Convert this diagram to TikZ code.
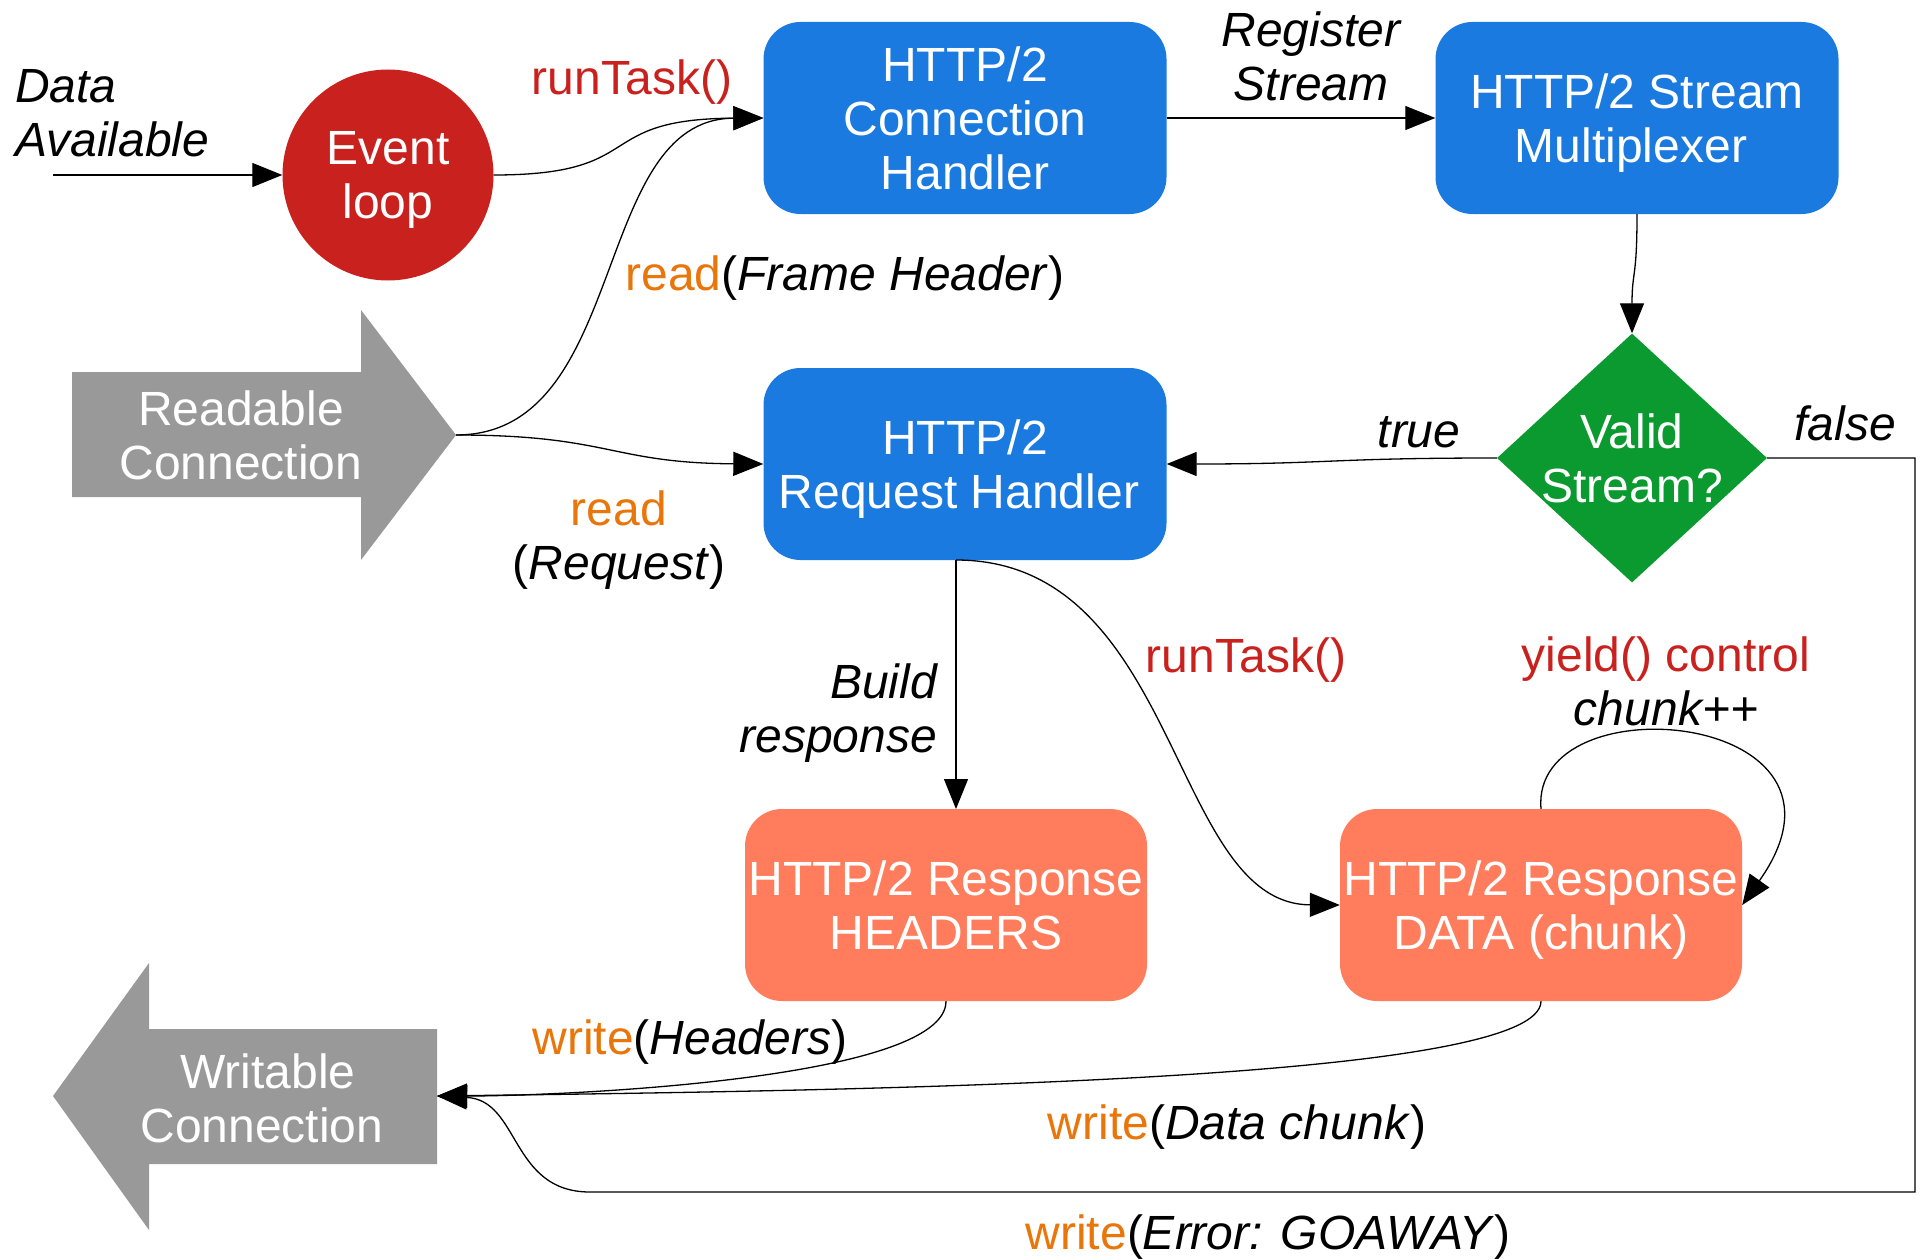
\documentclass[tikz,border=0pt]{standalone}
\usepackage{fontspec}
\setmainfont{Liberation Sans}
\usetikzlibrary{arrows.meta,shapes.geometric}
\definecolor{boxblue}{HTML}{1A7ADF}
\definecolor{loopred}{HTML}{C9211E}
\definecolor{validgreen}{HTML}{0B9A2F}
\definecolor{salmon}{HTML}{FF7D5C}
\definecolor{arrowgrey}{HTML}{999999}
\definecolor{lblorange}{HTML}{E8760A}
\definecolor{lblred}{HTML}{C9211E}
\tikzset{
  every node/.style={font=\fontsize{48}{54}\selectfont, inner sep=0pt, text depth=0pt},
  bluebox/.style={rectangle, rounded corners=37pt, fill=boxblue, text=white, minimum width=403pt, minimum height=192pt, align=center},
  salmonbox/.style={rectangle, rounded corners=37pt, fill=salmon, text=white, minimum width=402pt, minimum height=192pt, align=center},
  conn/.style={line width=1.3pt, -{Triangle[length=30pt,width=24pt]}},
  lbl/.style={align=center},
}
\newcommand{\rd}[1]{\textcolor{lblorange}{#1}}
\newcommand{\trail}{\hspace*{12pt}}
\begin{document}
\begin{tikzpicture}[x=1pt,y=-1pt]
\useasboundingbox (0,0) rectangle (1921,1260);
% big arrows
\fill[arrowgrey] (72,372) -- (361,372) -- (361,310) -- (456,435) -- (361,560) -- (361,497) -- (72,497) -- cycle;
\node[text=white, align=center] (rctext) at (241,435) {Readable\\Connection};
\coordinate (rc) at (456,435);
\fill[arrowgrey] (437,1029) -- (149,1029) -- (149,963) -- (53,1096) -- (149,1230) -- (149,1164) -- (437,1164) -- cycle;
\node[text=white, align=center] (wctext) at (268,1098) {Writable\\Connection\trail};
\coordinate (wc) at (437,1096);
% nodes
\node[circle, fill=loopred, text=white, minimum size=211pt, align=center] (EL) at (388,175) {Event\\loop};
\node[bluebox] (CH) at (965,118) {HTTP/2\\Connection\trail\\Handler};
\node[bluebox] (SM) at (1637,118) {HTTP/2 Stream\\Multiplexer\trail};
\node[bluebox] (RH) at (965,464) {HTTP/2\\Request Handler\trail};
\node[diamond, fill=validgreen, minimum width=270pt, minimum height=249pt] (VS) at (1632,458) {};
\node[text=white, align=center] (vstext) at (VS.center) {Valid\\Stream?};
\node[salmonbox] (HD) at (946,905) {HTTP/2 Response\\HEADERS};
\node[salmonbox] (DT) at (1541,905) {HTTP/2 Response\\DATA (chunk)};
\coordinate (dstart) at (53,175);
\coordinate (rhb) at (956,560);
\coordinate (hdt) at (956,809);
% connectors
\draw[conn] (dstart) -- (EL);
\draw[conn] (EL.east) .. controls (650,175) and (590,119) .. (CH.west);
\draw[conn] (rc) .. controls (630,435) and (590,119) .. (CH.west);
\draw[conn] (rc) .. controls (610,435) and (610,463) .. (RH.west);
\draw[conn] (CH.east) -- (SM.west);
\draw[conn] (SM.south) .. controls (1637,280) and (1632,270) .. (VS.north);
\draw[conn] (VS.west) .. controls (1330,458) and (1330,464) .. (RH.east);
\draw[conn] (rhb) -- (hdt);
\draw[conn] (rhb) .. controls (1180,560) and (1170,904) .. (DT.west);
\draw[conn] (DT.north) .. controls (1530,680) and (1880,710) .. (DT.east);
\draw[conn] (HD.south) .. controls (946,1080) and (560,1096) .. (wc);
\draw[conn] (DT.south) .. controls (1541,1080) and (900,1090) .. (wc);
\draw[conn] (VS.east) -- (1915,458) -- (1915,1192) -- (590,1192) .. controls (510,1192) and (520,1100) .. (wc);
% labels
\node[lbl, align=left, anchor=west] (lda) at (15,113) {\itshape Data\\\itshape Available};
\node[lbl, text=lblred] (lrt1) at (632,77) {runTask()};
\node[lbl] (lreg) at (1311,56) {\itshape Register\\\itshape Stream};
\node[lbl] (lrfh) at (845,273) {\rd{read}(\textit{Frame Header})};
\node[lbl] (lrrq) at (619,535) {\rd{read}\\(\textit{Request})};
\node[lbl] (ltrue) at (1419,432) {\itshape true};
\node[lbl] (lfalse) at (1845,423) {\itshape false};
\node[lbl, align=right, anchor=east] (lbuild) at (937,708) {\itshape Build\\\itshape response};
\node[lbl, text=lblred] (lrt2) at (1246,655) {runTask()};
\node[lbl] (lyield) at (1666,681) {\textcolor{lblred}{yield() control}\\\textit{chunk++}};
\node[lbl] (lwh) at (690,1037) {\rd{write}(\textit{Headers})};
\node[lbl] (lwd) at (1237,1122) {\rd{write}(\textit{Data chunk})};
\node[lbl] (lwe) at (1268,1232) {\rd{write}(\textit{Error: GOAWAY})};
\end{tikzpicture}
\end{document}
